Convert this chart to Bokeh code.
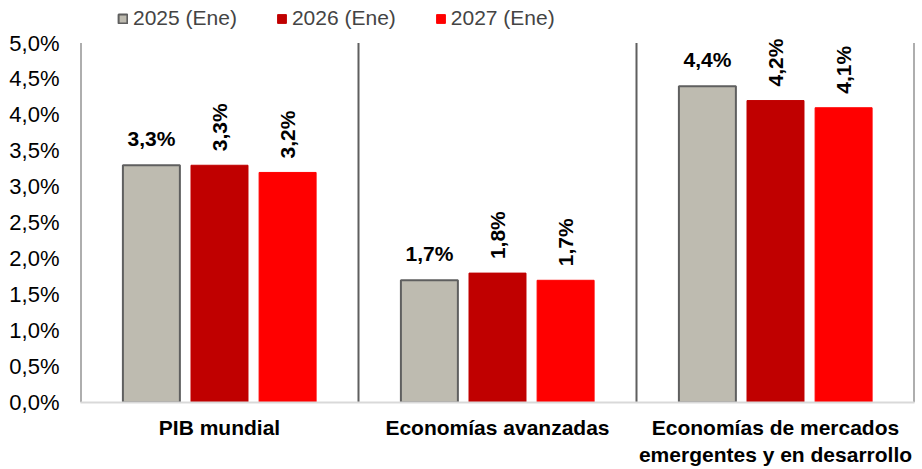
from bokeh.plotting import figure
from bokeh.models import (ColumnDataSource, FactorRange, Legend, LegendItem,
                          CustomJSTickFormatter, FixedTicker)
from bokeh.transform import dodge
from bokeh.embed import file_html
from bokeh.resources import INLINE
from bokeh.core.properties import value

categories = ["PIB mundial", "Economías avanzadas",
              "Economías de mercados\nemergentes y en desarrollo"]
series = ["2025 (Ene)", "2026 (Ene)", "2027 (Ene)"]
v2025 = [3.3, 1.7, 4.4]
v2026 = [3.3, 1.8, 4.2]
v2027 = [3.2, 1.7, 4.1]
y_ticks = [0.0, 0.5, 1.0, 1.5, 2.0, 2.5, 3.0, 3.5, 4.0, 4.5, 5.0]

colors = ["#BEBBB0", "#C00000", "#FF0000"]
outlines = ["#5f5f5f", "#C00000", "#FF0000"]
offsets = [-0.245, 0.0, 0.245]
bar_w = 0.205
FONT = "Liberation Sans"


def fmt(v):
    return f"{v:.1f}".replace(".", ",") + "%"


p = figure(x_range=FactorRange(*categories, range_padding=0), y_range=(0, 5.55),
           width=918, height=469, output_backend="svg", toolbar_location=None,
           min_border_left=80, min_border_right=4, min_border_top=3,
           min_border_bottom=66)
p.outline_line_color = None
p.xgrid.grid_line_color = None
p.ygrid.grid_line_color = None

# group separators, from 0 to the top tick
n = len(categories)
p.segment(x0=list(range(n + 1)), x1=list(range(n + 1)), y0=[y_ticks[0]] * (n + 1),
          y1=[y_ticks[-1]] * (n + 1), line_color="#5f5f5f", line_width=2)

renderers = []
for vals, name, col, oc, off in zip([v2025, v2026, v2027], series, colors, outlines, offsets):
    src = ColumnDataSource(dict(cat=categories, val=vals, lab=[fmt(v) for v in vals]))
    r = p.vbar(x=dodge("cat", off, range=p.x_range), top="val", width=bar_w, source=src,
               fill_color=col, line_color=oc, line_width=2 if oc != col else 1)
    renderers.append(r)
    if off < 0:
        p.text(x=dodge("cat", off, range=p.x_range), y="val", text="lab", source=src,
               text_align="center", text_baseline="bottom", y_offset=-15,
               text_font=value(FONT), text_font_style="bold", text_font_size="21px",
               text_color="#000000")
    else:
        p.text(x=dodge("cat", off, range=p.x_range), y="val", text="lab", source=src,
               angle=1.5708, text_align="left", text_baseline="middle", y_offset=-14,
               text_font=value(FONT), text_font_style="bold", text_font_size="21px",
               text_color="#000000")

# axes
p.yaxis.ticker = FixedTicker(ticks=y_ticks)
p.yaxis.formatter = CustomJSTickFormatter(code="return tick.toFixed(1).replace('.', ',') + '%';")
p.yaxis.axis_line_color = None
p.yaxis.major_tick_line_color = None
p.yaxis.minor_tick_line_color = None
p.yaxis.major_label_text_font = FONT
p.yaxis.major_label_text_font_size = "22px"
p.yaxis.major_label_text_color = "#000000"
p.yaxis.major_label_standoff = 15

p.xaxis.axis_line_color = "#d9d9d9"
p.xaxis.axis_line_width = 2
p.xaxis.major_tick_line_color = None
p.xaxis.minor_tick_line_color = None
p.xaxis.major_label_text_font = FONT
p.xaxis.major_label_text_font_style = "bold"
p.xaxis.major_label_text_font_size = "21px"
p.xaxis.major_label_text_color = "#000000"
p.xaxis.major_label_standoff = 7

legend = Legend(items=[LegendItem(label=s, renderers=[r]) for s, r in zip(series, renderers)],
                orientation="horizontal", location=(37, 372), margin=0, padding=0,
                spacing=39, label_standoff=5, glyph_width=11, glyph_height=11,
                label_text_font=FONT, label_text_font_size="21px", label_height=22,
                background_fill_alpha=0, border_line_color=None)
p.add_layout(legend, "center")

open("out.html", "w").write(file_html(p, INLINE))
